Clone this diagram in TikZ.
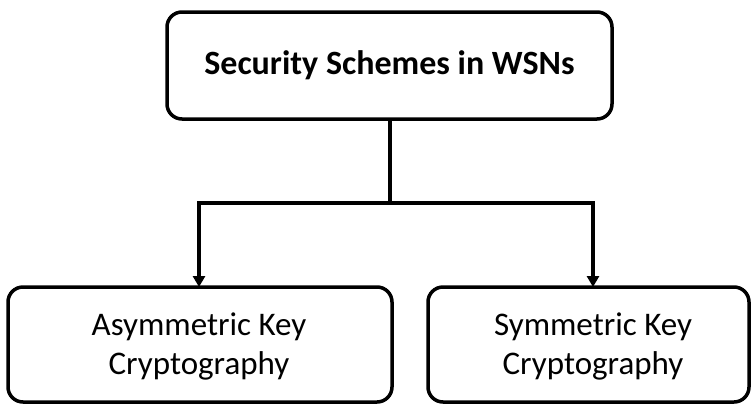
\documentclass[tikz,border=0pt]{standalone}
\usepackage{fontspec}
\setmainfont{Carlito}
\usetikzlibrary{arrows.meta}
\begin{document}
\begin{tikzpicture}[x=1pt,y=-1pt,
  box/.style={draw=black, line width=3.5pt, rounded corners=15pt, fill=white},
  lbl/.style={align=center, font=\fontsize{33}{39}\selectfont},
  conn/.style={line width=3.5pt, -{Triangle[length=11pt,width=12pt]}}]
\useasboundingbox (0,0) rectangle (752,405);
\draw[box] (167,12) rectangle (612,119);
\node[font=\fontsize{34}{40}\selectfont\bfseries] (top) at (389.5,65.5) {Security Schemes in WSNs};
\draw[box] (8,287) rectangle (392,402);
\node[lbl] (left) at (199,346) {Asymmetric Key\\Cryptography};
\draw[box] (428,287) rectangle (749,402);
\node[lbl] (right) at (593,346) {Symmetric Key\\Cryptography};
\coordinate (ts) at (390,119);
\coordinate (j) at (390,203);
\coordinate (la) at (199,287);
\coordinate (ra) at (593,287);
\draw[line width=3.5pt] (ts) -- (j);
\draw[conn] (j) -| (la);
\draw[conn] (j) -| (ra);
\end{tikzpicture}
\end{document}
